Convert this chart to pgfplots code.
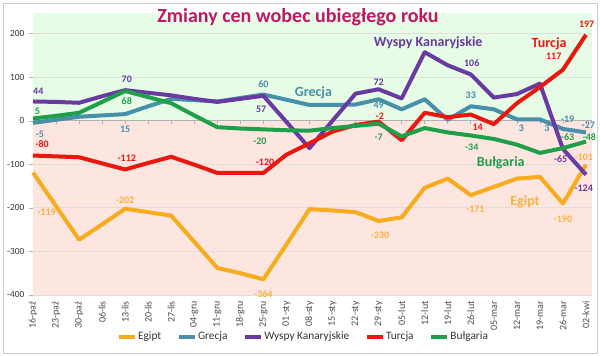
\documentclass[border=0pt]{standalone}
\usepackage{pgfplots}
\pgfplotsset{compat=1.18}
\usepackage{fontspec}
\setmainfont{Carlito}
\definecolor{cEg}{RGB}{247,172,30}
\definecolor{cEgT}{RGB}{245,180,60}
\definecolor{cGr}{RGB}{72,143,170}
\definecolor{cWy}{RGB}{105,58,160}
\definecolor{cTu}{RGB}{232,24,14}
\definecolor{cBu}{RGB}{30,160,75}
\definecolor{cTitle}{RGB}{192,24,104}
\definecolor{bgG}{RGB}{230,252,230}
\definecolor{bgP}{RGB}{253,229,224}
\newcommand\lab[4]{\node[font=\bfseries\fontsize{7.5}{8}\selectfont, text=#1, inner sep=0pt] at (axis cs:#2,#3) {#4};}
\newcommand\sname[4]{\node[font=\bfseries\fontsize{10.5}{12}\selectfont, text=#1, inner sep=0pt] at (axis cs:#2,#3) {#4};}
\begin{document}
\begin{tikzpicture}
\path[use as bounding box] (0,0) rectangle (450pt,267pt);
\draw[gray!40, line width=0.6pt] (2.25pt,2.25pt) rectangle (447.75pt,264.75pt);
\begin{axis}[
 at={(24.75pt,45.75pt)}, anchor=south west,
 scale only axis, width=419.25pt, height=211.5pt,
 xmin=0, xmax=24.26, ymin=-400, ymax=247,
 clip=false,
 axis lines*=left,
 x axis line style={draw=none},
 y axis line style={draw=gray!60, line width=0.6pt},
 xtick={0,...,24},
 xticklabels={16-paź,23-paź,30-paź,06-lis,13-lis,20-lis,27-lis,04-gru,11-gru,18-gru,25-gru,01-sty,08-sty,15-sty,22-sty,29-sty,05-lut,12-lut,19-lut,26-lut,05-mar,12-mar,19-mar,26-mar,02-kwi},
 x tick label style={rotate=90, anchor=east, font=\fontsize{7.5}{8}\selectfont, text=black!70, inner sep=1.5pt},
 xtick style={draw=none},
 ytick={-400,-300,-200,-100,0,100,200},
 y tick label style={font=\fontsize{7}{8}\selectfont, text=black!80},
 ytick style={draw=gray!60},
 tick align=outside,
 major tick length=3pt,
 /pgf/number format/assume math mode=true,
 legend columns=-1,
 legend style={at={(0.483,-0.149)}, anchor=center, draw=none, fill=none, font=\fontsize{8.5}{9}\selectfont, text=black!80, inner sep=0pt, nodes={inner sep=0.8pt}, /tikz/every odd column/.append style={column sep=0pt}, /tikz/every even column/.append style={column sep=11pt}},
 legend image code/.code={\draw[#1, line width=3pt, line cap=butt] (0pt,0pt) -- (12pt,0pt);},
 every axis plot/.append style={line width=3pt, line join=round, mark=none},
]
\fill[bgG] (axis cs:0,0) rectangle (axis cs:24.26,247);
\fill[bgP] (axis cs:0,-400) rectangle (axis cs:24.26,0);
\draw[gray!25, line width=0.6pt] (axis cs:0,200) -- (axis cs:24.26,200);
\draw[gray!25, line width=0.6pt] (axis cs:0,100) -- (axis cs:24.26,100);
\draw[gray!25, line width=0.6pt] (axis cs:0,-100) -- (axis cs:24.26,-100);
\draw[gray!25, line width=0.6pt] (axis cs:0,-200) -- (axis cs:24.26,-200);
\draw[gray!25, line width=0.6pt] (axis cs:0,-300) -- (axis cs:24.26,-300);
\draw[gray!25, line width=0.6pt] (axis cs:0,-400) -- (axis cs:24.26,-400);
\draw[gray!60, line width=0.6pt] (axis cs:0,0) -- (axis cs:24.26,0);
\pgfplotsinvokeforeach{0,...,24}{\draw[gray!60, line width=0.5pt] (axis cs:#1,0) -- ++(0pt,-2.5pt);}

\addplot[cEg] table {
0 -119
1 -196
2 -273
3 -238
4 -202
5 -210
6 -218
7 -278
8 -338
9 -350
10 -364
11 -284
12 -203
13 -206
14 -210
15 -230
16 -222
17 -154
18 -133
19 -171
20 -152
21 -133
22 -129
23 -190
24 -101
};
\addlegendentry{Egipt}
\addplot[cGr] table {
0 -5
1 2
2 9
3 12
4 15
5 33
6 50
7 47
8 44
9 52
10 60
11 48
12 36
13 36
14 37
15 49
16 26
17 49
18 2
19 33
20 26
21 3
22 3
23 -19
24 -27
};
\addlegendentry{Grecja}
\addplot[cWy] table {
0 44
1 43
2 41
3 56
4 70
5 64
6 58
7 50
8 43
9 50
10 57
11 -3
12 -63
13 0
14 62
15 72
16 51
17 157
18 127
19 106
20 53
21 61
22 85
23 -65
24 -124
};
\addlegendentry{Wyspy Kanaryjskie}
\addplot[cTu] table {
0 -80
1 -82
2 -84
3 -98
4 -112
5 -97
6 -83
7 -101
8 -120
9 -120
10 -120
11 -78
12 -52
13 -25
14 -10
15 -2
16 -45
17 18
18 8
19 14
20 -8
21 40
22 77
23 117
24 197
};
\addlegendentry{Turcja}
\addplot[cBu] table {
0 5
1 11
2 18
3 43
4 68
5 54
6 40
7 12
8 -15
9 -18
10 -20
11 -22
12 -23
13 -17
14 -12
15 -7
16 -36
17 -17
18 -27
19 -34
20 -42
21 -55
22 -74
23 -63
24 -48
};
\addlegendentry{Bułgaria}

\lab{cEgT}{0.59}{-209}{-119}
\lab{cEgT}{4.0}{-182}{-202}
\lab{cEgT}{10.0}{-398}{-364}
\lab{cEgT}{15.06}{-263}{-230}
\lab{cEgT}{19.2}{-203}{-171}
\lab{cEgT}{23.0}{-226}{-190}
\lab{cEgT}{23.9}{-83}{-101}

\lab{cGr}{0.3}{-31}{-5}
\lab{cGr}{4.0}{-19}{15}
\lab{cGr}{10.0}{84}{60}
\lab{cGr}{15.0}{35}{49}
\lab{cGr}{19.0}{59}{33}
\lab{cGr}{21.2}{-17}{3}
\lab{cGr}{22.3}{-17}{3}
\lab{cGr}{23.2}{4}{-19}
\lab{cGr}{24.1}{-11}{-27}

\lab{cWy}{0.23}{67}{44}
\lab{cWy}{4.07}{95}{70}
\lab{cWy}{9.9}{26}{57}
\lab{cWy}{15.0}{89}{72}
\lab{cWy}{19.04}{132}{106}
\lab{cWy}{22.9}{-89}{-65}
\lab{cWy}{23.9}{-155}{-124}

\lab{cTu}{0.4}{-54}{-80}
\lab{cTu}{4.07}{-86}{-112}
\lab{cTu}{10.07}{-96}{-120}
\lab{cTu}{15.05}{11}{-2}
\lab{cTu}{19.3}{-14}{14}
\lab{cTu}{22.6}{147}{117}
\lab{cTu}{24.03}{222}{197}

\lab{cBu}{0.19}{21}{5}
\lab{cBu}{4.07}{44}{68}
\lab{cBu}{9.85}{-48}{-20}
\lab{cBu}{15.0}{-37}{-7}
\lab{cBu}{19.04}{-62}{-34}
\lab{cBu}{23.2}{-38}{-63}
\lab{cBu}{24.15}{-38}{-48}

\sname{cWy}{17.15}{178}{Wyspy Kanaryjskie}
\sname{cTu}{22.4}{176}{Turcja}
\sname{cGr}{12.17}{64}{Grecja}
\sname{cBu}{20.3}{-96}{Bułgaria}
\sname{cEgT}{21.35}{-187}{Egipt}
\end{axis}
\node[font=\bfseries\fontsize{15}{18}\selectfont, text=cTitle] at (223.5pt,254pt) {Zmiany cen wobec ubiegłego roku};
\end{tikzpicture}
\end{document}
